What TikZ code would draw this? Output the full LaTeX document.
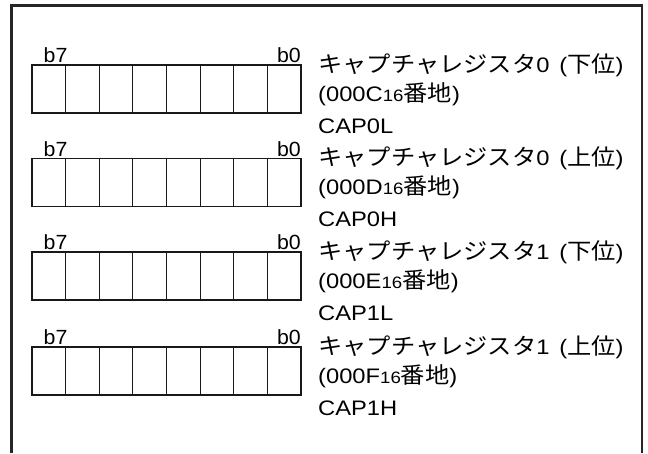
\documentclass[tikz,border=0pt]{standalone}
\usepackage{fontspec}
\setmainfont{Liberation Sans}[FakeStretch=1.13]
\newfontfamily\cjk{Noto Sans CJK JP}[FakeStretch=1.08,Scale=1.07]
\newfontfamily\bitfont{Liberation Sans}[FakeStretch=1.04]
\newcommand{\subsmall}[1]{{\fontsize{16.5}{19}\selectfont #1}}
\begin{document}
\begin{tikzpicture}[x=1pt,y=-1pt,
  frameline/.style={line width=2.6pt,color=black!85},
  cellline/.style={line width=1.2pt,color=black!90},
  txt/.style={anchor=base west,inner sep=0pt,font=\fontsize{21}{25}\selectfont},
  bitlbl/.style={inner sep=0pt,font=\bitfont\fontsize{20.5}{24}\selectfont}]
\useasboundingbox (0,0) rectangle (648,453);
\fill[white] (0,0) rectangle (648,453);
% open frame
\draw[frameline] (11.3,453) -- (11.3,5.3) -- (642,5.3) -- (642,453);
% registers
\foreach \top/\n/\hex/\nm/\pos [count=\i] in {65/0/C/CAP0L/下位,158.5/0/D/CAP0H/上位,252/1/E/CAP1L/下位,347/1/F/CAP1H/上位}{
  \draw[cellline] (32,\top) rectangle (301,\top+48);
  \foreach \k in {1,...,7}{
    \draw[cellline] (32+\k*33.625,\top) -- (32+\k*33.625,\top+48);
  }
  \node[bitlbl,anchor=base west] (b7\i) at (43.5,\top-2.5) {b7};
  \node[bitlbl,anchor=base east] (b0\i) at (301,\top-2.5) {b0};
  \node[txt] (name\i) at (318,\top+7) {{\cjk キャプチャレジスタ}\n\hspace{0.15em} ({\cjk \pos})};
  \node[txt] (addr\i) at (318,\top+36) {(000\hex\subsmall{16}{\cjk 番地})};
  \node[txt] (sym\i) at (318,\top+68) {\nm};
}
\end{tikzpicture}
\end{document}
